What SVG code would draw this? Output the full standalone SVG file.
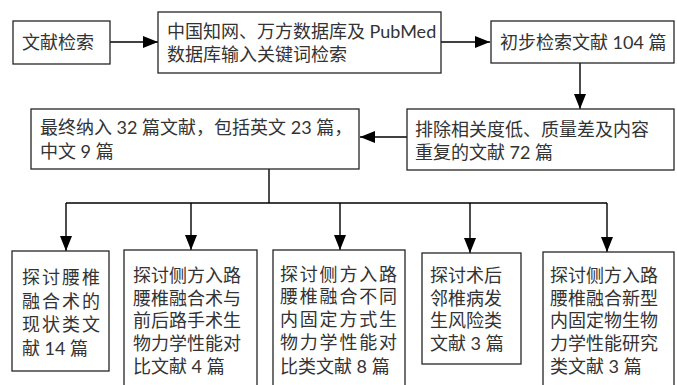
<svg xmlns="http://www.w3.org/2000/svg" width="677" height="385" viewBox="0 0 677 385">
<defs>
<style>
.box{fill:#fff;stroke:#262626;stroke-width:1.3}
.t{font-family:"Lato","Noto Sans CJK SC",sans-serif;font-size:18px;fill:#333}
.sp{letter-spacing:2px}
.sp2{letter-spacing:1.8px}
.ln{fill:none;stroke:#000;stroke-width:1.4}
</style>
<marker id="ah" markerUnits="userSpaceOnUse" markerWidth="15" markerHeight="12" refX="15" refY="6" orient="auto">
<path d="M0,0 L15,6 L0,12 z" fill="#000"/>
</marker>
</defs>
<rect width="677" height="385" fill="#fff"/>
<g id="connectors">
<line class="ln" x1="110" y1="42" x2="158" y2="42" marker-end="url(#ah)"/>
<line class="ln" x1="441" y1="42" x2="490" y2="42" marker-end="url(#ah)"/>
<line class="ln" x1="580" y1="63" x2="580" y2="109" marker-end="url(#ah)"/>
<line class="ln" x1="407" y1="137" x2="360" y2="137" marker-end="url(#ah)"/>
<polyline class="ln" points="269,169 269,203"/>
<line class="ln" x1="66" y1="203" x2="607" y2="203"/>
<line class="ln" x1="66" y1="203" x2="66" y2="251" marker-end="url(#ah)"/>
<line class="ln" x1="191" y1="203" x2="191" y2="250" marker-end="url(#ah)"/>
<line class="ln" x1="340" y1="203" x2="340" y2="250" marker-end="url(#ah)"/>
<line class="ln" x1="470" y1="203" x2="470" y2="253" marker-end="url(#ah)"/>
<line class="ln" x1="607" y1="203" x2="607" y2="252" marker-end="url(#ah)"/>
</g>
<g id="n1">
<rect class="box" x="13" y="21" width="97" height="43"/>
<text class="t" x="22" y="49">文献检索</text>
</g>
<g id="n2">
<rect class="box" x="158" y="12" width="283" height="61"/>
<text class="t" x="167" y="38">中国知网、万方数据库及 PubMed</text>
<text class="t" x="167" y="61">数据库输入关键词检索</text>
</g>
<g id="n3">
<rect class="box" x="491" y="21" width="183" height="42"/>
<text class="t" x="500" y="49">初步检索文献 104 篇</text>
</g>
<g id="n4">
<rect class="box" x="407" y="109" width="267" height="61"/>
<text class="t" x="415" y="136">排除相关度低、质量差及内容</text>
<text class="t" x="415" y="159">重复的文献 72 篇</text>
</g>
<g id="n5">
<rect class="box" x="31" y="109" width="328" height="60"/>
<text class="t" x="40" y="134">最终纳入 32 篇文献，包括英文 23 篇，</text>
<text class="t" x="40" y="158">中文 9 篇</text>
</g>
<g id="n6">
<rect class="box" x="12" y="251" width="97" height="120"/>
<text class="t sp" x="22" y="284">探讨腰椎</text>
<text class="t sp" x="22" y="307.5">融合术的</text>
<text class="t sp" x="22" y="331">现状类文</text>
<text class="t" x="22" y="355">献 14 篇</text>
</g>
<g id="n7">
<rect class="box" x="124" y="250" width="133" height="140"/>
<text class="t" x="133" y="282">探讨侧方入路</text>
<text class="t" x="133" y="304.7">腰椎融合术与</text>
<text class="t" x="133" y="327.4">前后路手术生</text>
<text class="t" x="133" y="350">物力学性能对</text>
<text class="t" x="133" y="372.8">比文献 4 篇</text>
</g>
<g id="n8">
<rect class="box" x="273" y="250" width="132" height="140"/>
<text class="t sp2" x="280" y="281">探讨侧方入路</text>
<text class="t sp2" x="280" y="303">腰椎融合不同</text>
<text class="t sp2" x="280" y="325.5">内固定方式生</text>
<text class="t sp2" x="280" y="349">物力学性能对</text>
<text class="t" x="280" y="373">比类文献 8 篇</text>
</g>
<g id="n9">
<rect class="box" x="422" y="253" width="99" height="111"/>
<text class="t" x="430" y="282">探讨术后</text>
<text class="t" x="430" y="304.7">邻椎病发</text>
<text class="t" x="430" y="327.4">生风险类</text>
<text class="t" x="430" y="350">文献 3 篇</text>
</g>
<g id="n10">
<rect class="box" x="543" y="252" width="131" height="140"/>
<text class="t" x="550" y="282">探讨侧方入路</text>
<text class="t" x="550" y="304.7">腰椎融合新型</text>
<text class="t" x="550" y="327.4">内固定物生物</text>
<text class="t" x="550" y="350">力学性能研究</text>
<text class="t" x="550" y="372.8">类文献 3 篇</text>
</g>
</svg>
